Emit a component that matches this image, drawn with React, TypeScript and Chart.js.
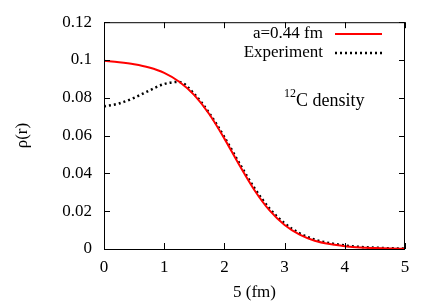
import React, { useEffect, useRef } from "react";
import { Chart, registerables } from "chart.js";

Chart.register(...registerables);

const rs = [0, 0.25, 0.5, 0.75, 1.0, 1.25, 1.5, 1.75, 2.0, 2.25, 2.5, 2.75, 3.0, 3.25, 3.5, 3.75, 4.0, 4.25, 4.5, 4.75, 5.0];
const modelRho = [0.0996, 0.0988, 0.0977, 0.096, 0.0932, 0.0885, 0.0814, 0.0713, 0.0584, 0.0443, 0.0311, 0.0204, 0.0127, 0.0076, 0.0044, 0.0026, 0.0015, 0.0008, 0.0005, 0.0003, 0.00015];
const expRho = [0.0755, 0.077, 0.08, 0.0838, 0.0873, 0.0884, 0.082, 0.0718, 0.0592, 0.0453, 0.0322, 0.0214, 0.0136, 0.0083, 0.005, 0.0031, 0.0019, 0.0011, 0.0007, 0.0004, 0.0002];
const xTicks = [0, 1, 2, 3, 4, 5];
const yTicks = [0, 0.02, 0.04, 0.06, 0.08, 0.1, 0.12];
const legendLabels = ["a=0.44 fm", "Experiment"];

const FONT = '"Liberation Serif", "DejaVu Serif", serif';

const framePlugin = {
  id: "framePlugin",
  afterDraw(chart: any) {
    const { ctx, chartArea } = chart;
    const { left, right, top, bottom } = chartArea;
    const xs = chart.scales.x;
    const ys = chart.scales.y;
    ctx.save();
    ctx.strokeStyle = "#000";
    ctx.lineWidth = 1;
    ctx.strokeRect(left + 0.5, top + 0.5, right - left - 1, bottom - top);
    const L = 6;
    ctx.beginPath();
    xTicks.forEach((t) => {
      const px = Math.round(xs.getPixelForValue(t)) + 0.5;
      ctx.moveTo(px, bottom);
      ctx.lineTo(px, bottom - L);
      ctx.moveTo(px, top);
      ctx.lineTo(px, top + L);
    });
    yTicks.forEach((t) => {
      const py = Math.round(ys.getPixelForValue(t)) + 0.5;
      ctx.moveTo(left, py);
      ctx.lineTo(left + L, py);
      ctx.moveTo(right, py);
      ctx.lineTo(right - L, py);
    });
    ctx.stroke();

    // legend (gnuplot style)
    ctx.font = `17px ${FONT}`;
    ctx.fillStyle = "#000";
    ctx.textAlign = "right";
    ctx.textBaseline = "middle";
    const tx = 323;
    const y1 = 34;
    const y2 = 53;
    ctx.fillText(legendLabels[0], tx, y1);
    ctx.fillText(legendLabels[1], tx, y2);
    ctx.beginPath();
    ctx.strokeStyle = "#ff0000";
    ctx.lineWidth = 2;
    ctx.moveTo(335, y1);
    ctx.lineTo(382, y1);
    ctx.stroke();
    ctx.beginPath();
    ctx.strokeStyle = "#000";
    ctx.lineWidth = 2.5;
    ctx.setLineDash([2, 3]);
    ctx.moveTo(335, y2);
    ctx.lineTo(382, y2);
    ctx.stroke();
    ctx.setLineDash([]);

    // annotation
    ctx.textAlign = "left";
    ctx.textBaseline = "alphabetic";
    ctx.font = `12px ${FONT}`;
    ctx.fillText("12", 284, 97);
    ctx.font = `18px ${FONT}`;
    ctx.fillText("C density", 296, 106);
    ctx.restore();
  },
};

export default function App() {
  const ref = useRef<HTMLCanvasElement>(null);
  useEffect(() => {
    document.body.style.margin = "0";
    const chart = new Chart(ref.current as HTMLCanvasElement, {
      type: "line",
      data: {
        datasets: [
          {
            label: legendLabels[0],
            data: rs.map((r, i) => ({ x: r, y: modelRho[i] })),
            borderColor: "#ff0000",
            borderWidth: 2,
            pointRadius: 0,
            cubicInterpolationMode: "monotone",
            fill: false,
          },
          {
            label: legendLabels[1],
            data: rs.map((r, i) => ({ x: r, y: expRho[i] })),
            borderColor: "#000",
            borderWidth: 2.5,
            borderDash: [2, 3],
            pointRadius: 0,
            cubicInterpolationMode: "monotone",
            fill: false,
          },
        ],
      },
      options: {
        responsive: false,
        animation: false,
        layout: { padding: { top: 20, right: 31, left: 0, bottom: 0 } },
        plugins: { legend: { display: false }, tooltip: { enabled: false } },
        scales: {
          x: {
            type: "linear",
            min: 0,
            max: 5,
            afterFit: (s: any) => {
              s.height = 55;
            },
            afterBuildTicks: (s: any) => {
              s.ticks = xTicks.map((v) => ({ value: v }));
            },
            grid: { display: false, drawTicks: false },
            border: { display: false },
            ticks: {
              color: "#000",
              font: { family: FONT, size: 17 },
              padding: 8,
              maxRotation: 0,
              callback: (v: any) => String(v),
            },
            title: {
              display: true,
              text: "5 (fm)",
              color: "#000",
              font: { family: FONT, size: 17 },
              padding: { top: 0, bottom: 1 },
            },
          },
          y: {
            type: "linear",
            min: 0,
            max: 0.12,
            afterFit: (s: any) => {
              s.width = 104;
            },
            afterBuildTicks: (s: any) => {
              s.ticks = yTicks.map((v) => ({ value: v }));
            },
            grid: { display: false, drawTicks: false },
            border: { display: false },
            ticks: {
              color: "#000",
              font: { family: FONT, size: 17 },
              padding: 12,
              callback: (v: any) => String(+Number(v).toFixed(2)),
            },
            title: {
              display: true,
              text: "ρ(r)",
              color: "#000",
              font: { family: FONT, size: 17 },
              padding: { top: 12, bottom: 0 },
            },
          },
        },
      },
      plugins: [framePlugin],
    } as any);
    return () => chart.destroy();
  }, []);
  return (
    <div style={{ width: 436, height: 304 }}>
      <canvas ref={ref} width={436} height={304} style={{ display: "block" }} />
    </div>
  );
}
